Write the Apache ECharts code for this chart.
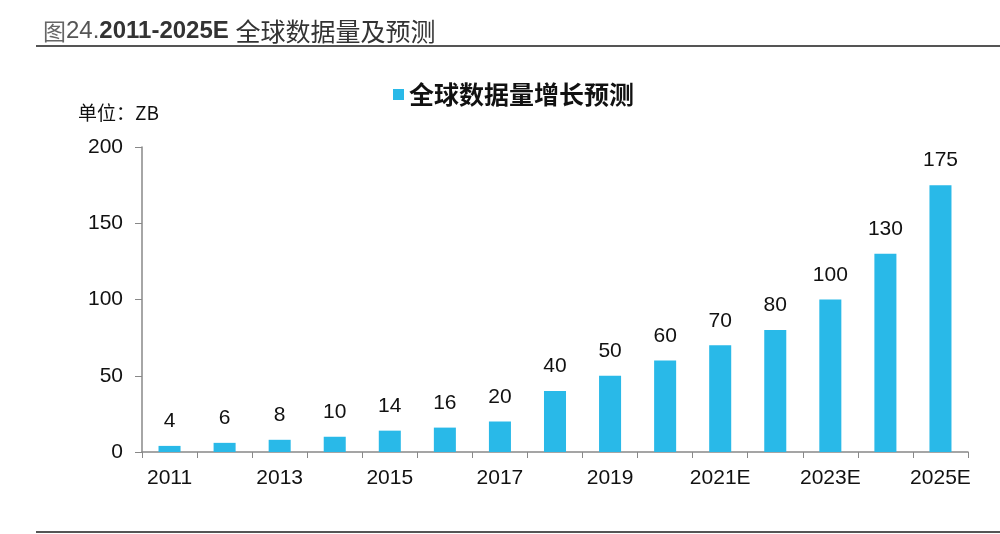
<!DOCTYPE html>
<html><head><meta charset="utf-8">
<script src="https://cdn.jsdelivr.net/npm/echarts@6/dist/echarts.min.js"></script>
<style>html,body{margin:0;padding:0;background:#fff;}#c{width:1000px;height:534px;}</style>
</head><body><div id="c"></div>
<script>
const categories = ['2011','2012','2013','2014','2015','2016','2017','2018','2019','2020','2021E','2022E','2023E','2024E','2025E'];
const values = [4,6,8,10,14,16,20,40,50,60,70,80,100,130,175];
const yTicks = [0,50,100,150,200];
const seriesName = '全球数据量增长预测';

const chart = echarts.init(document.getElementById('c'), null, {renderer:'canvas'});
const cjk = '"Noto Sans CJK SC", "Noto Sans", sans-serif';
const num = '"Liberation Sans", Arial, sans-serif';
chart.setOption({
  animation:false,
  backgroundColor:'#fff',
  title:{
    text:'{a|图}{d|24.}{b|2011-2025E }{c|全球数据量及预测}',
    left:38, top:14,
    textStyle:{fontWeight:'normal', rich:{
      a:{fontFamily:cjk, fontSize:23, fontWeight:'normal', color:'#666'},
      d:{fontFamily:num, fontSize:24, fontWeight:'normal', color:'#555'},
      b:{fontFamily:num, fontSize:24, fontWeight:'bold', color:'#333'},
      c:{fontFamily:cjk, fontSize:25, fontWeight:'normal', color:'#333'}
    }}
  },
  graphic:[
    {type:'line', shape:{x1:36,y1:46,x2:1000,y2:46}, style:{stroke:'#555', lineWidth:2}},
    {type:'line', shape:{x1:36,y1:532,x2:1000,y2:532}, style:{stroke:'#555', lineWidth:2}},
    {type:'text', left:78, top:103, style:{text:'单位：ZB', font:'19px "Noto Sans CJK SC"', fill:'#111'}}
  ],
  legend:{
    data:[seriesName], left:388, top:77,
    itemWidth:11, itemHeight:11, itemGap:7,
    icon:'rect',
    textStyle:{fontFamily:cjk, fontSize:25, fontWeight:'bold', color:'#111'}
  },
  grid:{left:142, right:32, top:147, bottom:82, containLabel:false},
  xAxis:{
    type:'category', data:categories,
    axisLine:{lineStyle:{color:'#888', width:1.5}},
    axisTick:{show:true, length:6, lineStyle:{color:'#888'}, interval:0},
    axisLabel:{interval:1, color:'#111', fontFamily:num, fontSize:21, margin:16}
  },
  yAxis:{
    type:'value', min:yTicks[0], max:yTicks[yTicks.length-1], interval:50,
    axisLine:{show:true, lineStyle:{color:'#888', width:1.5}},
    axisTick:{show:true, length:7, lineStyle:{color:'#888'}},
    splitLine:{show:false},
    axisLabel:{color:'#111', fontFamily:num, fontSize:21, margin:19}
  },
  series:[{
    name:seriesName, type:'bar', data:values, barWidth:'40%',
    itemStyle:{color:'#29B9E8'},
    label:{show:true, position:'top', distance:14, color:'#111', fontFamily:num, fontSize:21}
  }]
});
</script></body></html>
